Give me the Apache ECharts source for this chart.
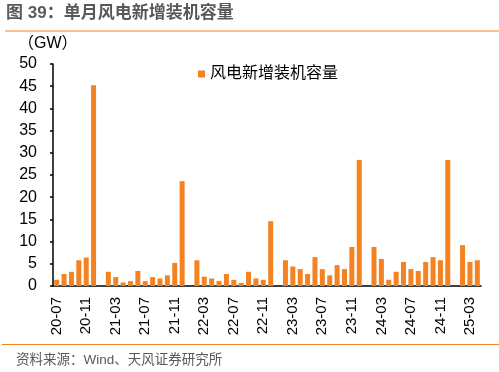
<!DOCTYPE html>
<html><head><meta charset="utf-8">
<script src="https://cdn.jsdelivr.net/npm/echarts@6/dist/echarts.min.js"></script>
<style>html,body{margin:0;padding:0;background:#fff}#c{width:499px;height:372px}</style>
</head><body><div id="c"></div>
<script>
const categories = [
 '20-07','20-08','20-09','20-10','20-11','20-12',
 '21-01','21-02','21-03','21-04','21-05','21-06','21-07','21-08','21-09','21-10','21-11','21-12',
 '22-01','22-02','22-03','22-04','22-05','22-06','22-07','22-08','22-09','22-10','22-11','22-12',
 '23-01','23-02','23-03','23-04','23-05','23-06','23-07','23-08','23-09','23-10','23-11','23-12',
 '24-01','24-02','24-03','24-04','24-05','24-06','24-07','24-08','24-09','24-10','24-11','24-12',
 '25-01','25-02','25-03','25-04'];
const windAdded = [
 1.4,2.7,3.2,5.8,6.4,45.2,
 null,3.2,2.0,0.8,1.1,3.4,1.1,2.0,1.7,2.4,5.2,23.6,
 null,5.8,2.1,1.7,1.1,2.7,1.4,0.7,3.2,1.7,1.4,14.6,
 null,5.8,4.4,3.8,2.7,6.5,3.8,2.4,4.7,3.8,8.8,28.4,
 null,8.8,6.1,1.4,3.2,5.4,3.8,3.4,5.4,6.5,5.8,28.4,
 null,9.2,5.4,5.8];
const seriesName = '风电新增装机容量';
const titleText = '图 39：单月风电新增装机容量';
const sourceText = '资料来源：Wind、天风证券研究所';
const unitText = '（GW）';

const chart = echarts.init(document.getElementById('c'), null, {renderer:'canvas'});
const orange = '#F58220';
const font = '"Liberation Sans","Noto Sans CJK SC",sans-serif';
chart.setOption({
  animation:false,
  textStyle:{fontFamily:font},
  grid:{left:53,right:18,top:64,bottom:86},
  legend:{data:[seriesName],left:193,top:61,itemWidth:7,itemHeight:7,itemGap:7,
    icon:'rect',textStyle:{fontSize:16,color:'#000',fontFamily:font}},
  xAxis:{type:'category',data:categories,boundaryGap:true,
    axisLine:{lineStyle:{color:'#000',width:1.5}},
    axisTick:{interval:3,length:4,lineStyle:{color:'#000',width:1.5}},
    axisLabel:{interval:3,rotate:90,fontSize:15,color:'#000',margin:11,fontFamily:font}},
  yAxis:{type:'value',min:0,max:50,interval:5,
    axisLine:{show:true,lineStyle:{color:'#000',width:1.5}},
    axisTick:{show:true,length:3,lineStyle:{color:'#000',width:1.5}},
    splitLine:{show:false},
    axisLabel:{fontSize:16,color:'#000',margin:16,fontFamily:font}},
  series:[{name:seriesName,type:'bar',data:windAdded,barWidth:5,
    itemStyle:{color:orange}}],
  graphic:[
    {type:'text',left:6,top:5,style:{text:titleText,font:'bold 17px '+font,fill:'#595959'}},
    {type:'line',shape:{x1:5,y1:31,x2:499,y2:31},style:{stroke:orange,lineWidth:1.2}},
    {type:'text',left:18,top:36,style:{text:unitText,font:'16px '+font,fill:'#000'}},
    {type:'line',shape:{x1:2,y1:344.5,x2:499,y2:344.5},style:{stroke:orange,lineWidth:1.2}},
    {type:'text',left:16,top:354,style:{text:sourceText,font:'13.5px '+font,fill:'#595959'}}
  ]
});
</script></body></html>
